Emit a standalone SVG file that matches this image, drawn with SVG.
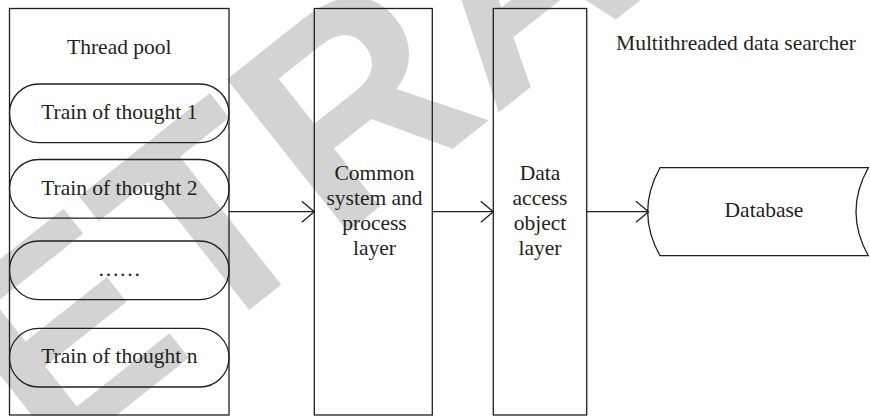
<svg xmlns="http://www.w3.org/2000/svg" width="870" height="416" viewBox="0 0 870 416">
<style>
.wm{font-family:"Liberation Sans","DejaVu Sans",sans-serif;font-weight:bold;fill:#d3d3d3}
.shape{fill:none;stroke:#231f20;stroke-width:1.3}
.lbl{font-family:"Liberation Serif","Times New Roman",serif;font-size:21.5px;fill:#231f20;text-anchor:middle}
.conn{fill:none;stroke:#231f20;stroke-width:1.3}
</style>
<defs>
<marker id="open" markerUnits="userSpaceOnUse" viewBox="0 0 16 26" markerWidth="16" markerHeight="26" refX="14" refY="13" orient="auto">
<path d="M1.5,2.5 L14,13 L1.5,23.5" fill="none" stroke="#231f20" stroke-width="1.3"/>
</marker>
</defs>
<rect width="870" height="416" fill="#ffffff"/>
<text class="wm" font-size="283" transform="translate(-110.5,595.2) rotate(-38.4)">RETRACTED</text>
<g id="thread-pool">
<rect class="shape" x="9.5" y="8.5" width="219.5" height="406.5"/>
<text class="lbl" x="119.3" y="53.5">Thread pool</text>
</g>
<g id="thought-1">
<rect class="shape" x="9.5" y="84" width="219.5" height="58.7" rx="29.3" ry="29.3"/>
<text class="lbl" x="119.3" y="119">Train of thought 1</text>
</g>
<g id="thought-2">
<rect class="shape" x="9.5" y="159.5" width="219.5" height="58.7" rx="29.3" ry="29.3"/>
<text class="lbl" x="119.3" y="194.5">Train of thought 2</text>
</g>
<g id="thought-ellipsis">
<rect class="shape" x="9.5" y="241" width="219.5" height="58.7" rx="29.3" ry="29.3"/>
<text class="lbl" x="119.3" y="276">……</text>
</g>
<g id="thought-n">
<rect class="shape" x="9.5" y="328.3" width="219.5" height="58.7" rx="29.3" ry="29.3"/>
<text class="lbl" x="119.3" y="362.5">Train of thought n</text>
</g>
<g id="common-layer">
<rect class="shape" x="314.3" y="8.5" width="118" height="406.5"/>
<text class="lbl" x="374.5" y="179.5">Common</text>
<text class="lbl" x="374.5" y="204.8">system and</text>
<text class="lbl" x="374.5" y="230.1">process</text>
<text class="lbl" x="374.5" y="255.4">layer</text>
</g>
<g id="dao-layer">
<rect class="shape" x="493.3" y="8.5" width="93.4" height="406.5"/>
<text class="lbl" x="540" y="179.5">Data</text>
<text class="lbl" x="540" y="204.8">access</text>
<text class="lbl" x="540" y="230.1">object</text>
<text class="lbl" x="540" y="255.4">layer</text>
</g>
<g id="database">
<path class="shape" d="M660,167.7 H868.3 Q843.7,211.7 868.3,255.7 H660 Q635.4,211.7 660,167.7 Z"/>
<text class="lbl" x="764" y="216.7">Database</text>
</g>
<g id="searcher-title">
<text class="lbl" x="736" y="50">Multithreaded data searcher</text>
</g>
<g id="connectors">
<line class="conn" x1="229" y1="211.7" x2="314.3" y2="211.7" marker-end="url(#open)"/>
<line class="conn" x1="432.3" y1="211.7" x2="493.3" y2="211.7" marker-end="url(#open)"/>
<line class="conn" x1="586.7" y1="211.7" x2="648.5" y2="211.7" marker-end="url(#open)"/>
</g>
</svg>
